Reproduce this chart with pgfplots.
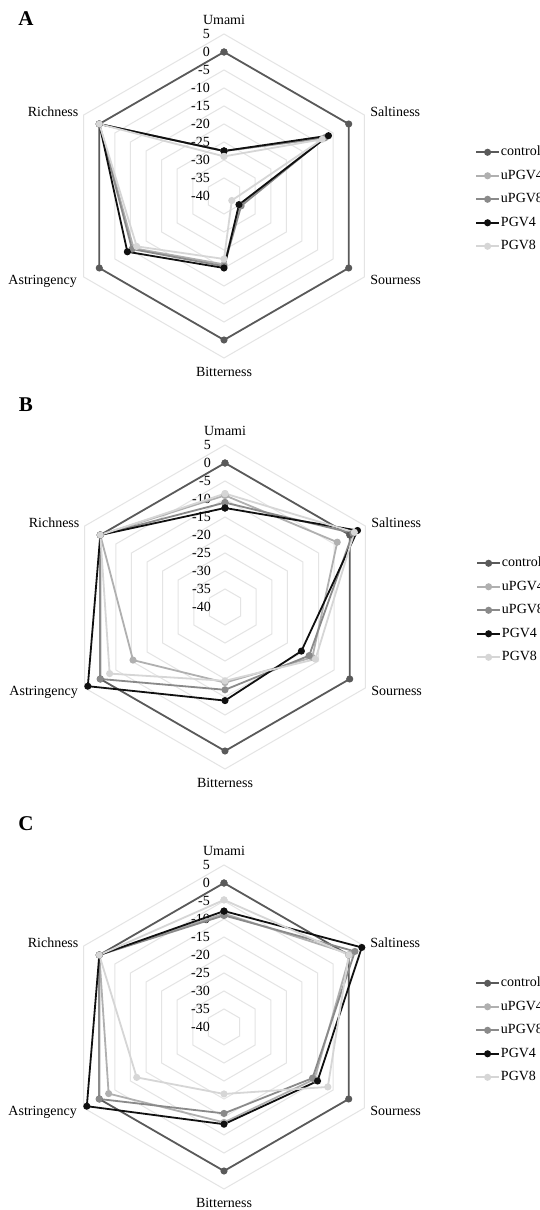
\documentclass[border=0pt]{standalone}
\usepackage{fontspec}
\setmainfont{Liberation Serif}
\usepackage{pgfplots}
\usepackage{pgfplotstable}
\pgfplotsset{compat=1.18}
\definecolor{cctrl}{HTML}{5A5A5A}
\definecolor{cu4}{HTML}{B0B0B0}
\definecolor{cu8}{HTML}{8A8A8A}
\definecolor{cp4}{HTML}{101010}
\definecolor{cp8}{HTML}{D6D6D6}
\definecolor{gridc}{HTML}{E4E4E4}

% angle: Umami 90, Saltiness 30, Sourness -30, Bitterness -90, Astringency -150, Richness 150
\pgfplotstableread{
a control uPGV4 uPGV8 PGV4 PGV8
90 0 -27.5 -27.5 -27.5 -29
30 0 -8 -7.5 -6.5 -8.5
-30 0 -35 -34.5 -35.2 -37.5
-90 0 -21 -20.5 -20 -22.5
-150 0 -11 -10.5 -9 -12
150 0 0 0 0 0
90 0 -27.5 -27.5 -27.5 -29
}\tabA
\pgfplotstableread{
a control uPGV4 uPGV8 PGV4 PGV8
90 0 -9 -11 -12.5 -8.5
30 0 -4 1 2.5 1.5
-30 0 -12 -13 -15.5 -11
-90 0 -19 -17 -14 -19.5
-150 0 -10.5 0 4 -3
150 0 0 0 0 0
90 0 -9 -11 -12.5 -8.5
}\tabB
\pgfplotstableread{
a control uPGV4 uPGV8 PGV4 PGV8
90 0 -8.5 -9 -7.8 -4.7
30 0 0.5 2 4.2 0
-30 0 -11 -11.6 -10 -6.7
-90 0 -13.5 -16 -13 -21.4
-150 0 -3 0 4 -12
150 0 0 0 0 0
90 0 -8.5 -9 -7.8 -4.7
}\tabC

\newcommand{\radarplot}[3]{%
  \addplot[#3, line width=1.8pt, mark=*, mark size=2.6pt, mark options={solid}]
    table[x expr={(\thisrow{#1}+40)*cos(\thisrow{a})},
          y expr={(\thisrow{#1}+40)*sin(\thisrow{a})}] {#2};
  \addlegendentry{#1}
}
\newcommand{\radargrid}{%
  \pgfplotsinvokeforeach{5,10,...,45}{%
    \draw[gridc, line width=1pt] (axis cs:0,##1) -- (axis cs:{0.8660*##1},{0.5*##1})
      -- (axis cs:{0.8660*##1},{-0.5*##1}) -- (axis cs:0,{-##1})
      -- (axis cs:{-0.8660*##1},{-0.5*##1}) -- (axis cs:{-0.8660*##1},{0.5*##1}) -- cycle;
  }
  \node[anchor=east,inner sep=0pt] at (axis cs:-3.9,45) {5};
  \node[anchor=east,inner sep=0pt] at (axis cs:-3.9,40) {0};
  \node[anchor=east,inner sep=0pt] at (axis cs:-3.9,35) {-5};
  \node[anchor=east,inner sep=0pt] at (axis cs:-3.9,30) {-10};
  \node[anchor=east,inner sep=0pt] at (axis cs:-3.9,25) {-15};
  \node[anchor=east,inner sep=0pt] at (axis cs:-3.9,20) {-20};
  \node[anchor=east,inner sep=0pt] at (axis cs:-3.9,15) {-25};
  \node[anchor=east,inner sep=0pt] at (axis cs:-3.9,10) {-30};
  \node[anchor=east,inner sep=0pt] at (axis cs:-3.9,5) {-35};
  \node[anchor=east,inner sep=0pt] at (axis cs:-3.9,0) {-40};
}
\newcommand{\radarlabels}{%
  \node[inner sep=0pt] at (axis cs:0,48.9) {Umami};
  \node[inner sep=0pt] at (axis cs:0,-48.9) {Bitterness};
  \node[anchor=west,inner sep=0pt] at (axis cs:40.6,23.4) {Saltiness};
  \node[anchor=west,inner sep=0pt] at (axis cs:40.6,-23.4) {Sourness};
  \node[anchor=east,inner sep=0pt] at (axis cs:-40.4,23.4) {Richness};
  \node[anchor=east,inner sep=0pt] at (axis cs:-40.8,-23.6) {Astringency};
}
\newcommand{\radarall}[1]{%
  \radargrid
  \radarplot{control}{#1}{cctrl}
  \radarplot{uPGV4}{#1}{cu4}
  \radarplot{uPGV8}{#1}{cu8}
  \radarplot{PGV4}{#1}{cp4}
  \radarplot{PGV8}{#1}{cp8}
  \radarlabels
}
\pgfplotsset{radar/.style={
  x=3.6pt, y=3.6pt, xmin=-60, xmax=60, ymin=-60, ymax=60,
  hide axis, clip=false, anchor=center,
  font=\fontsize{14}{16}\selectfont,
  legend style={at={(axis description cs:1.081,0.619)}, anchor=north west,
    draw=none, fill=none, inner sep=0pt, row sep=8.5pt,
    font=\fontsize{14}{16}\selectfont,
    nodes={inner sep=1pt, text height=10pt, text depth=3pt}},
  legend cell align=left,
  legend image code/.code={\draw[mark repeat=2,mark phase=2,##1] plot coordinates {(0pt,0pt) (11.5pt,0pt) (23pt,0pt)};},
}}

\begin{document}
\begin{tikzpicture}
\useasboundingbox (0,0) rectangle (539pt,1210pt);
\clip (0,0) rectangle (539pt,1210pt);
\fill[white] (0,0) rectangle (539pt,1210pt);
\node[font=\bfseries\fontsize{21}{24}\selectfont] at (26pt,1191pt) {A};
\node[font=\bfseries\fontsize{21}{24}\selectfont] at (26pt,805pt) {B};
\node[font=\bfseries\fontsize{21}{24}\selectfont] at (26pt,386pt) {C};
\begin{axis}[radar, at={(224pt,1014pt)}]
\radarall{\tabA}
\end{axis}
\begin{axis}[radar, at={(225pt,603pt)}]
\radarall{\tabB}
\end{axis}
\begin{axis}[radar, at={(224pt,183pt)}]
\radarall{\tabC}
\end{axis}
\end{tikzpicture}
\end{document}
